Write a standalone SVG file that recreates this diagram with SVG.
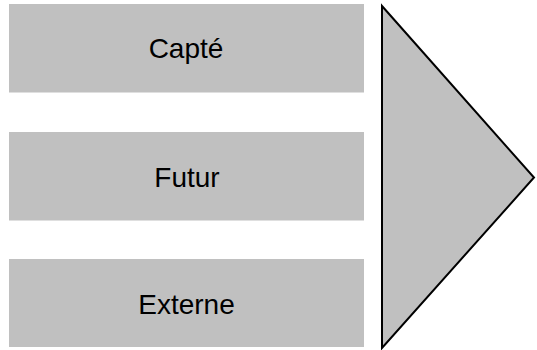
<svg xmlns="http://www.w3.org/2000/svg" width="537" height="350" viewBox="0 0 537 350">
  <style>
    .box { fill: #c0c0c0; stroke: none; }
    .label { font-family: "Liberation Sans", Arial, sans-serif; font-size: 28px; fill: #000; text-anchor: middle; }
    .arrow { fill: #c0c0c0; stroke: #000; stroke-width: 2; stroke-linejoin: miter; }
  </style>
  <rect width="537" height="350" fill="#fff"/>
  <g id="capte">
    <rect class="box" x="9" y="4" width="355" height="88.5"/>
    <text class="label" x="186" y="58">Capté</text>
  </g>
  <g id="futur">
    <rect class="box" x="9" y="132" width="355" height="88.5"/>
    <text class="label" x="187" y="187">Futur</text>
  </g>
  <g id="externe">
    <rect class="box" x="9" y="259" width="355" height="88"/>
    <text class="label" x="186.5" y="314">Externe</text>
  </g>
  <g id="connectors">
    <polygon class="arrow" points="382,6 534,177.5 382,348"/>
  </g>
</svg>
